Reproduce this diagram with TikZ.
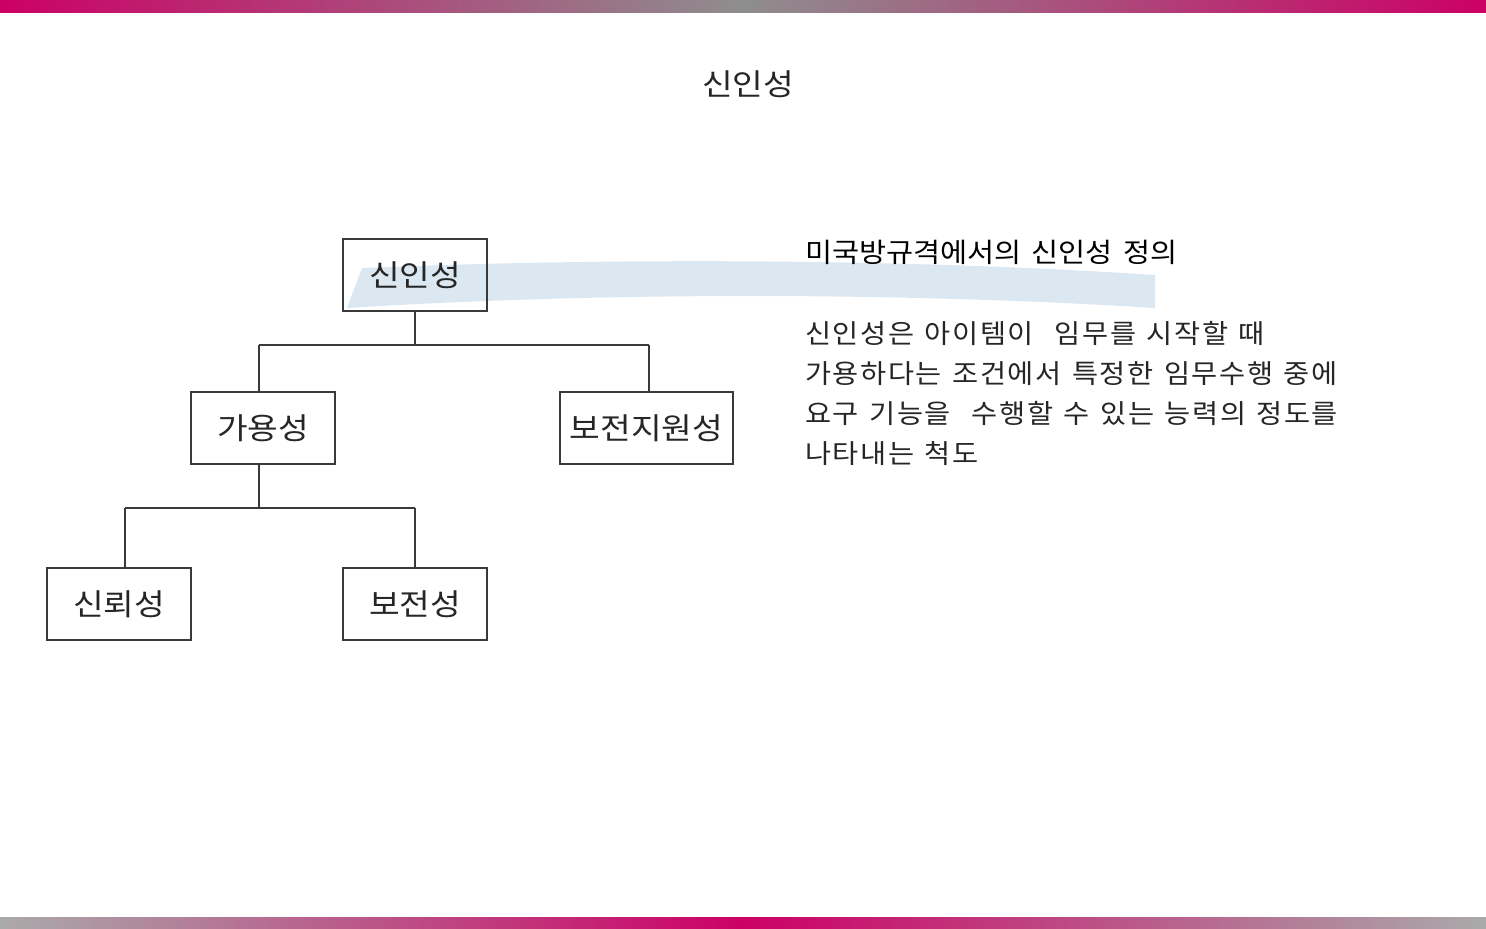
\documentclass[tikz,border=0pt]{standalone}
\usepackage{fontspec}
\setmainfont{Noto Sans CJK KR}
\newfontfamily\lsbody{Noto Sans CJK KR}[FakeStretch=1.07,LetterSpace=6]
\newfontfamily\lshead{Noto Sans CJK KR}[FakeStretch=1.09]
\newfontfamily\lsbox{Noto Sans CJK KR}[FakeStretch=1.11]
\definecolor{mag}{HTML}{CC0066}
\definecolor{midgray}{HTML}{8E8E8E}
\definecolor{edgegray}{HTML}{AAAAAA}
\definecolor{band}{HTML}{DCE8F1}
\definecolor{txt}{HTML}{262626}
\definecolor{boxline}{HTML}{3A3A3A}
\newcommand\bodyfont{\lsbody\fontsize{26.5}{40}\selectfont\spaceskip 10.5pt\relax}
\newcommand\headfont{\lshead\fontsize{27}{40}\selectfont\spaceskip 10pt\relax}
\newcommand\boxfont{\lsbox\fontsize{30}{30}\selectfont}
\tikzset{
  box/.style={draw=boxline, line width=1.3pt, minimum width=144pt, minimum height=72pt, inner sep=0pt, text=txt, font=\boxfont},
  conn/.style={draw=boxline, line width=1.1pt},
  body/.style={anchor=base west, inner sep=0pt, text=txt, font=\bodyfont}
}
\begin{document}
\begin{tikzpicture}[x=1pt,y=-1pt]
\useasboundingbox (0,0) rectangle (1486,929);
\fill[white] (0,0) rectangle (1486,929);
% bars
\shade[left color=mag, right color=mag, middle color=midgray] (0,0) rectangle (1486,12);
\shade[left color=edgegray, right color=edgegray, middle color=mag] (0,917) rectangle (1486,928);
% title
\node[text=txt, font=\boxfont] (title) at (748,84) {신인성};
% band
\fill[band] (347,308) -- (362,268) .. controls (600,258) and (900,258) .. (1155,275) -- (1155,308) .. controls (900,292) and (600,292) .. (347,308) -- cycle;
% boxes
\node[box] (top) at (415,275) {신인성};
\node[box] (avail) at (263,428) {가용성};
\node[box, minimum width=173pt] (supp) at (646.5,428) {보전지원성};
\node[box] (rel) at (119,604) {신뢰성};
\node[box] (maint) at (415,604) {보전성};
% connector coordinates
\coordinate (j1) at (415,345);
\coordinate (ja) at (259,345);
\coordinate (jb) at (649,345);
\coordinate (ta) at (259,392);
\coordinate (tb) at (649,392);
\coordinate (sa) at (259,464);
\coordinate (j2) at (259,508);
\coordinate (jc) at (125,508);
\coordinate (jd) at (415,508);
\coordinate (tc) at (125,568);
% connectors
\draw[conn] (top.south) -- (j1);
\draw[conn] (ja) -- (jb);
\draw[conn] (ja) -- (ta);
\draw[conn] (jb) -- (tb);
\draw[conn] (sa) -- (j2);
\draw[conn] (jc) -- (jd);
\draw[conn] (jc) -- (tc);
\draw[conn] (jd) -- (maint.north);
% text
\node[body, font=\headfont, text=black] (head) at (805,262) {미국방규격에서의 신인성 정의};
\node[body] (l1) at (805,343) {신인성은 아이템이\ \ 임무를 시작할 때};
\node[body] (l2) at (805,383) {가용하다는 조건에서 특정한 임무수행 중에};
\node[body] (l3) at (805,423) {요구 기능을\ \ 수행할 수 있는 능력의 정도를};
\node[body] (l4) at (805,463) {나타내는 척도};
\end{tikzpicture}
\end{document}
